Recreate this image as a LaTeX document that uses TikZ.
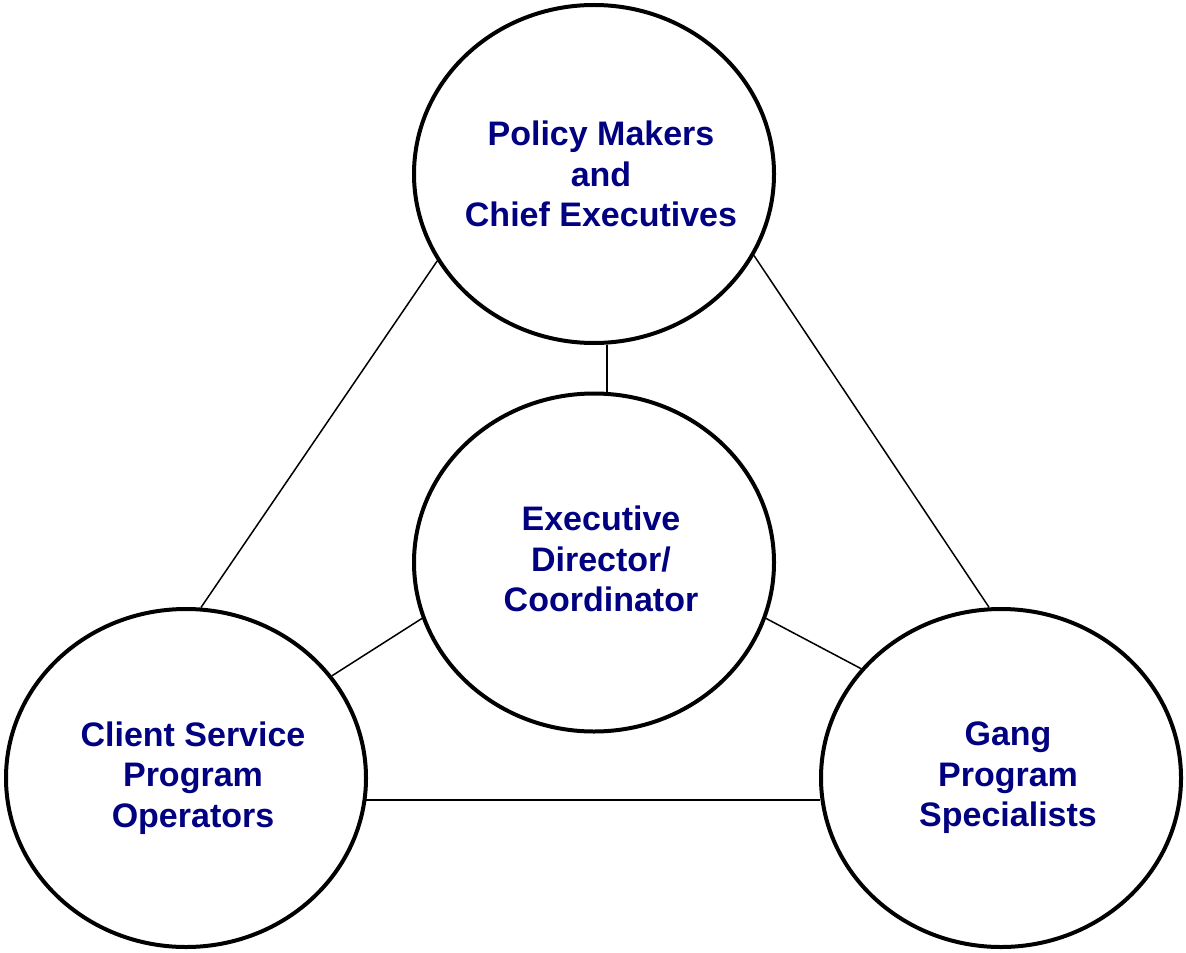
\documentclass[tikz,border=0pt]{standalone}
\usepackage{fontspec}
\setmainfont{Liberation Sans}
\usepackage{tikz}
\usetikzlibrary{shapes.geometric,positioning}
\definecolor{navyblue}{RGB}{0,0,128}

\begin{document}
\begin{tikzpicture}[-,line width=0.75pt,node distance=194.25pt]
  \tikzstyle{org}=[ellipse,draw=black,line width=2pt,minimum width=180pt,
                   minimum height=169pt,inner sep=0pt]
  \tikzstyle{orgtext}=[text=navyblue,align=center,
                       font=\fontsize{17}{20.3}\selectfont\bfseries]
  \useasboundingbox (0,0) rectangle (593pt,-476pt);

  \node[org] (P) at (297pt,-87pt) {};
  \node[org] (C) [below of =P] {};
  \node[org] (L) at (93pt,-389pt) {};
  \node[org] (G) [right of =L, node distance=407.5pt] {};

  \node[orgtext] (Ptext) at ([xshift=3.5pt]P) {Policy Makers\\and\\Chief Executives};
  \node[orgtext] (Ctext) at ([xshift=3.5pt,yshift=1.75pt]C) {Executive\\Director/\\Coordinator};
  \node[orgtext] (Ltext) at ([xshift=3.5pt]L) {Client Service\\Program\\Operators};
  \node[orgtext] (Gtext) at ([xshift=3.5pt]G) {Gang\\Program\\Specialists};

  \draw ([xshift=6.5pt]P.south) -- ([xshift=6.5pt]C.north);
  \draw (P.209.3) -- (L.85.7);
  \draw (P.333.3) -- (G.94.3);
  \draw (C.198) -- (L.35.8);
  \draw (C.342) -- (G.142.5);
  \draw (L.353.5) -- (L.353.5 -| G.186.5);
\end{tikzpicture}
\end{document}
